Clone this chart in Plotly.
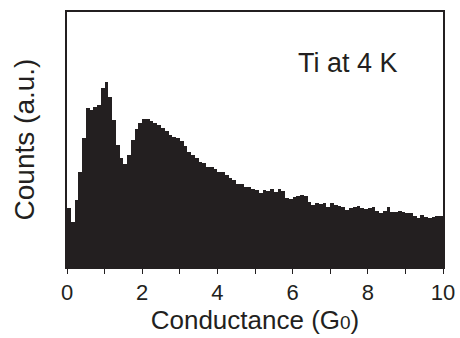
import plotly.graph_objects as go

# Bin left edges (G0) and histogram heights (arbitrary units)
bin_width = 0.1
bin_starts = [round(i * bin_width, 1) for i in range(100)]
top_px = [208, 222, 200, 172, 138, 108, 110, 107, 105, 88,
          82, 97, 120, 145, 158, 164, 155, 140, 129, 123,
          119, 119, 121, 123, 125, 128, 131, 135, 137, 138,
          141, 146, 152, 155, 158, 162, 163, 167, 167, 169,
          172, 172, 175, 178, 180, 184, 184, 187, 187, 189,
          190, 193, 190, 191, 189, 192, 189, 191, 198, 199,
          197, 196, 195, 196, 202, 205, 203, 204, 203, 207,
          203, 205, 206, 207, 210, 208, 207, 206, 208, 209,
          208, 207, 211, 213, 211, 207, 212, 212, 211, 212,
          213, 213, 216, 218, 215, 217, 218, 217, 216, 216]
counts = [267 - v for v in top_px]
bin_centers = [s + bin_width / 2 for s in bin_starts]

tick_vals = list(range(0, 11))
tick_text = [str(v) if v % 2 == 0 else "" for v in tick_vals]

fig = go.Figure()
fig.add_trace(go.Bar(
    x=bin_centers, y=counts, width=bin_width,
    marker=dict(color="#231f20", line=dict(width=0)),
))

fig.update_layout(
    width=460, height=338,
    margin=dict(l=67, r=17, t=12, b=71, autoexpand=False),
    paper_bgcolor="white", plot_bgcolor="white",
    bargap=0, showlegend=False,
    font=dict(family="Liberation Sans, Arial, sans-serif", color="#231f20"),
    xaxis=dict(
        range=[0, 10], tickmode="array", tickvals=tick_vals, ticktext=tick_text,
        ticks="outside", ticklen=5, tickwidth=1.2, tickcolor="#231f20",
        showline=True, linecolor="#231f20", linewidth=1.5, mirror=True,
        showgrid=False, zeroline=False, automargin=False,
        tickfont=dict(size=22),
        title=dict(text="Conductance (G<span style='font-size:19px'>0</span>)",
                   font=dict(size=26), standoff=5),
    ),
    yaxis=dict(
        range=[0, 255], showticklabels=False, ticks="",
        showline=True, linecolor="#231f20", linewidth=1.5, mirror=True,
        showgrid=False, zeroline=False, automargin=False,
        title=dict(text="Counts (a.u.)", font=dict(size=28), standoff=22),
    ),
    annotations=[dict(
        text="Ti at 4 K", xref="paper", yref="paper", x=0.747, y=0.8,
        xanchor="center", yanchor="middle", showarrow=False,
        font=dict(size=27, color="#231f20"),
    )],
)

fig.write_html("out.html")
